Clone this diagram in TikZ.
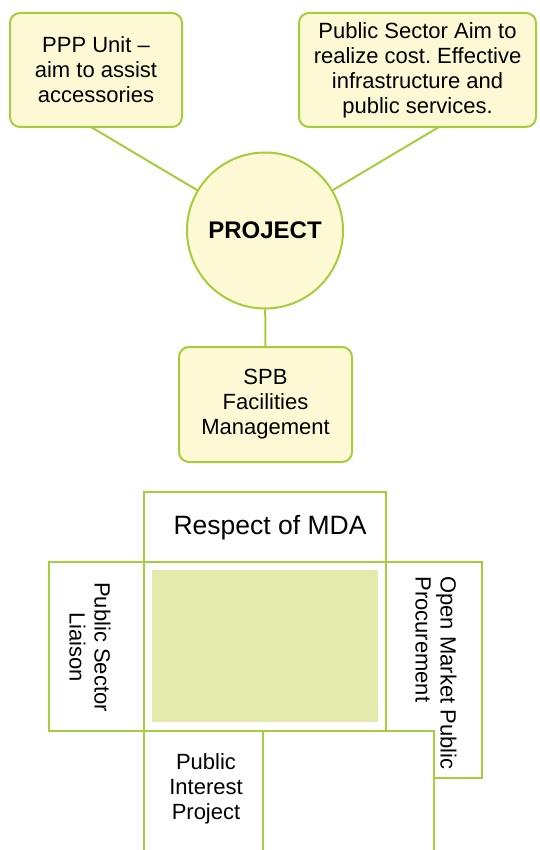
\documentclass[tikz,border=0pt]{standalone}
\usepackage{fontspec}
\setmainfont{Liberation Sans}
\frenchspacing
\definecolor{lgreen}{HTML}{A5CD3C}
\definecolor{lyellow}{HTML}{FEF9D5}
\definecolor{ggreen}{HTML}{E4EAAB}
\tikzset{
  rbox/.style={draw=lgreen, line width=2pt, fill=lyellow, rounded corners=10pt, align=center,
    font=\fontsize{22}{25}\selectfont, inner sep=0pt},
  circ/.style={draw=lgreen, line width=2pt, fill=lyellow, circle, minimum size=156pt, inner sep=0pt,
    font=\fontsize{24}{28}\selectfont\bfseries},
  conn/.style={draw=lgreen, line width=2pt},
  sq/.style={draw=lgreen, line width=2pt, inner sep=0pt},
  txt/.style={font=\fontsize{22}{25}\selectfont, inner sep=0pt},
}
\begin{document}
\begin{tikzpicture}[x=1pt,y=-1pt]
\useasboundingbox (0,0) rectangle (539,850);
% top boxes
\node[rbox, minimum width=172pt, minimum height=114pt] (ppp) at (96,70) {PPP Unit --\\aim to assist\\accessories};
\node[rbox, minimum width=237pt, minimum height=114pt] (psa) at (417.5,70) {Public Sector Aim to\\realize cost.\ Effective\\infrastructure and\\public services.};
\node[circ] (proj) at (265,230.5) {PROJECT};
\node[rbox, minimum width=173pt, minimum height=115pt] (spb) at (265.5,404.5) {SPB\\Facilities\\Management};
\coordinate (c1) at (91,127);
\coordinate (c2) at (439,127);
\draw[conn] (c1) -- (proj);
\draw[conn] (c2) -- (proj);
\draw[conn] (proj) -- (spb);
% lower block
\node[sq, fill=white, minimum width=242pt, minimum height=70pt] (mda) at (265,527) {};
\node[txt, font=\fontsize{26.5}{30}\selectfont] (mdat) at (270,528) {Respect of MDA};
\node[sq, minimum width=95pt, minimum height=169pt] (lft) at (96.5,646.5) {};
\node[txt, rotate=-90, align=center] (lftt) at (90,647) {Public Sector\\Liaison};
\node[sq, minimum width=242pt, minimum height=169pt] (ctr) at (265,646.5) {};
\node[fill=ggreen, minimum width=226pt, minimum height=152pt, inner sep=0pt] (grn) at (265,646) {};
\node[sq, minimum width=96pt, minimum height=216pt] (rgt) at (434,670) {};
\node[txt, rotate=-90, align=left] (rgtt) at (436,673) {Open Market Public\\Procurement};
% bottom open boxes
\draw[conn] (144,852) -- (144,731) -- (263,731) -- (263,852);
\draw[conn, fill=white] (263,852) -- (263,731) -- (434,731) -- (434,852);
\node[txt, align=center] (pip) at (206,789) {Public\\Interest\\Project};
\end{tikzpicture}
\end{document}
